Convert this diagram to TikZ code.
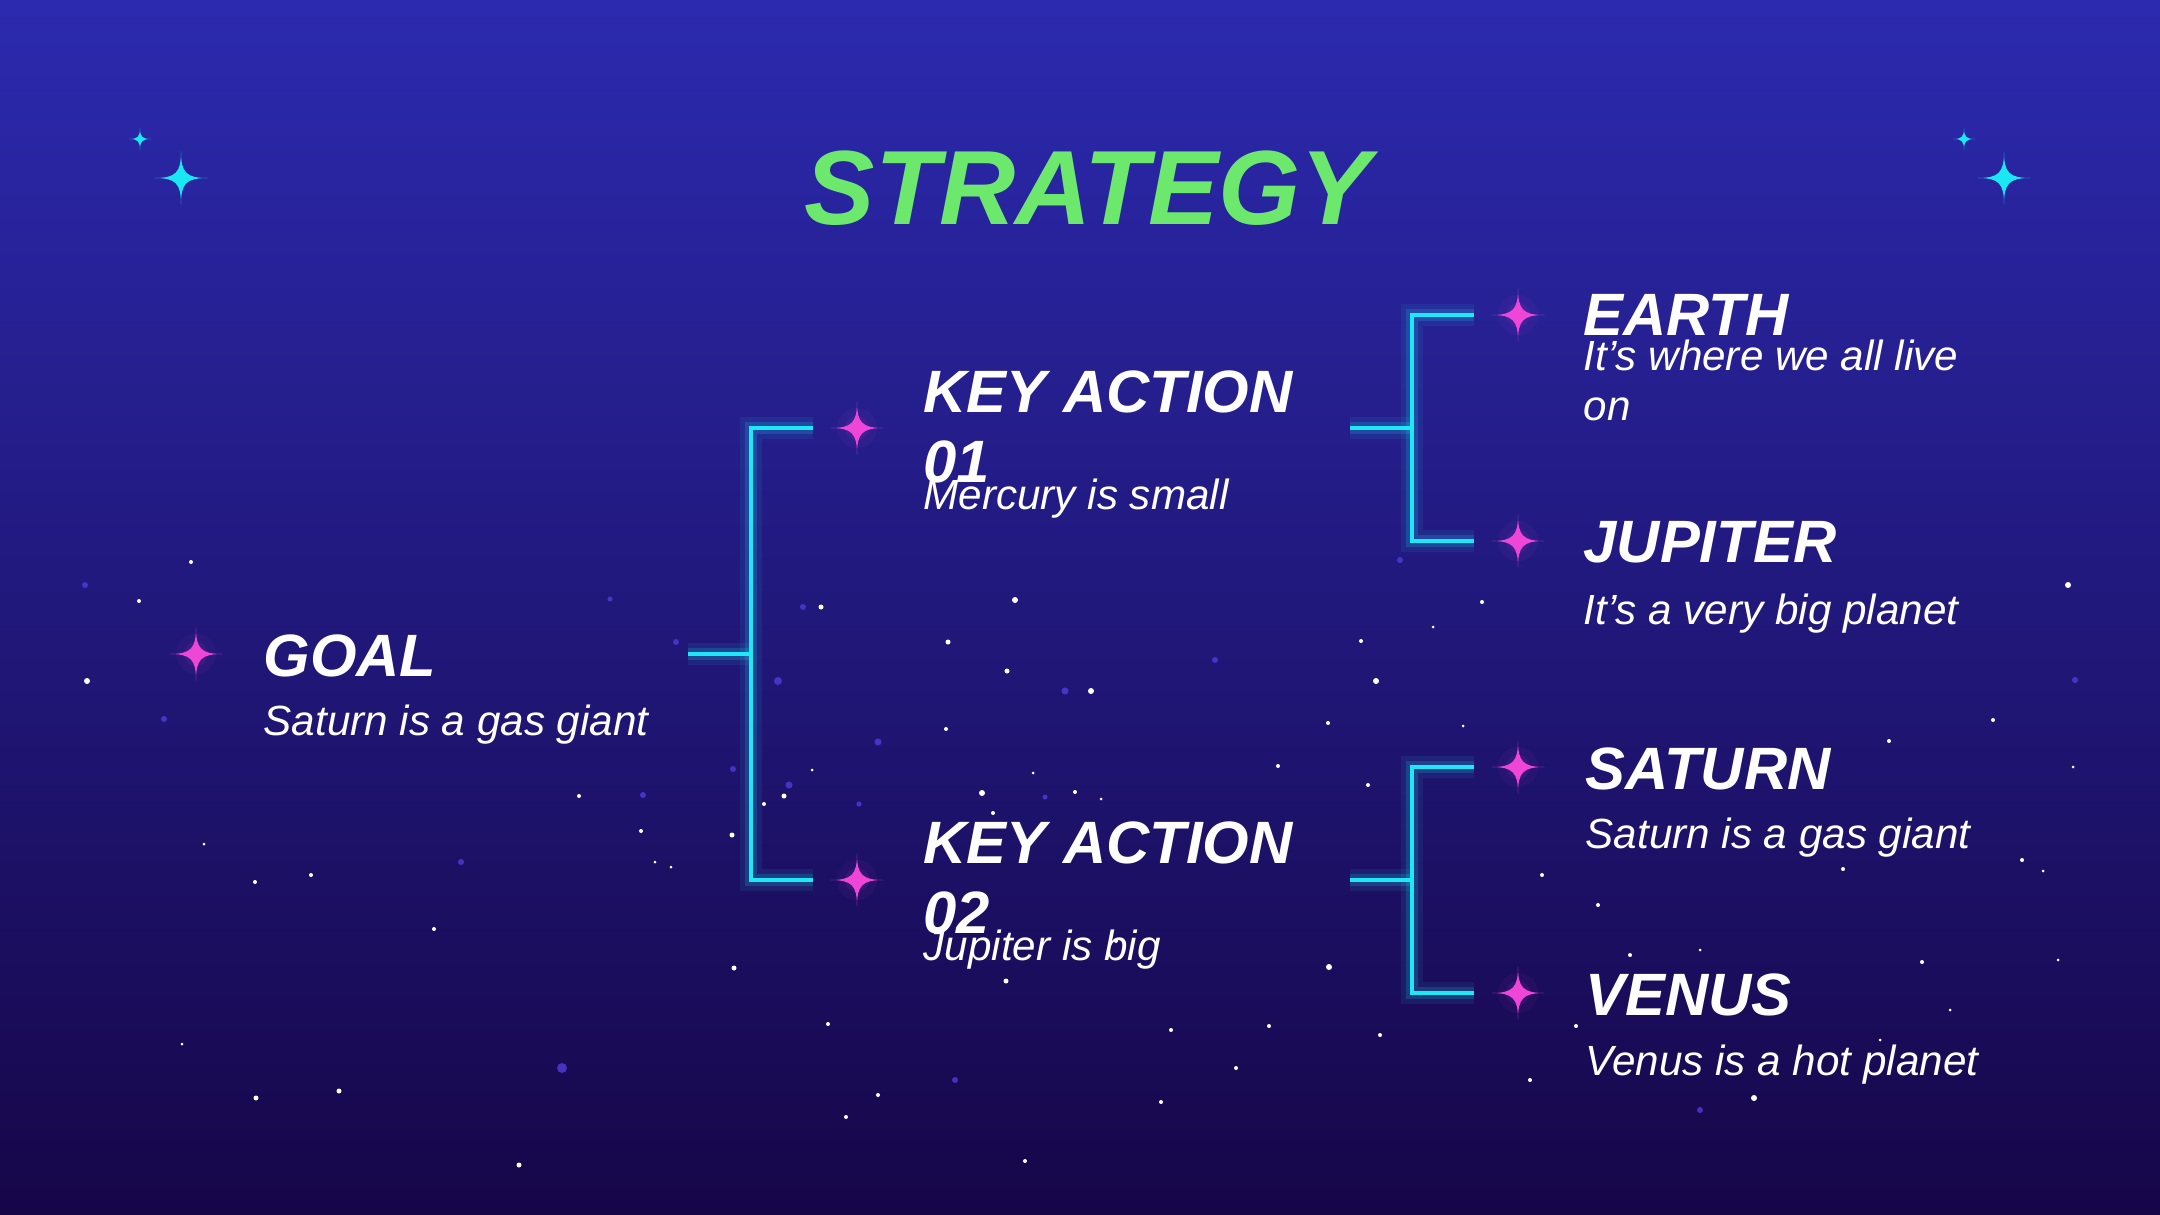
\documentclass[tikz,border=0pt]{standalone}
\usepackage{fontspec}
\setmainfont{Liberation Sans}
\usetikzlibrary{calc}
\definecolor{bgtop}{RGB}{44,42,175}
\definecolor{bgmid}{RGB}{33,20,125}
\definecolor{bgbot}{RGB}{22,6,72}
\definecolor{neon}{RGB}{30,232,245}
\definecolor{titlegreen}{RGB}{108,232,108}
\definecolor{pinkstar}{RGB}{240,70,215}
\definecolor{cyanstar}{RGB}{25,232,242}
\definecolor{dimdot}{RGB}{80,60,220}
\newcommand{\mystar}[3]{%
  \fill[#3,shift={(#1)},scale=#2] (1,0) .. controls (0.2,0) and (0,0.2) .. (0,1)
    .. controls (0,0.2) and (-0.2,0) .. (-1,0)
    .. controls (-0.2,0) and (0,-0.2) .. (0,-1)
    .. controls (0,-0.2) and (0.2,0) .. cycle;}
\newcommand{\pinkglow}[1]{%
  \fill[pinkstar,opacity=0.05] (#1) circle (20);
  \fill[pinkstar,opacity=0.08] (#1) circle (12);}
\begin{document}
\begin{tikzpicture}[x=0.01cm,y=-0.01cm,
  heading/.style={anchor=base west, inner sep=0pt, text=white, align=left,
    font=\fontsize{17}{19.9}\selectfont\bfseries\itshape},
  desc/.style={anchor=base west, inner sep=0pt, text=white, align=left,
    font=\fontsize{12}{14.2}\selectfont\itshape},
  neon/.style={draw=neon, line width=1.2pt,
    preaction={draw=neon, line width=6pt, draw opacity=0.08},
    preaction={draw=neon, line width=3.2pt, draw opacity=0.16}}]
\shade[top color=bgtop, middle color=bgmid, bottom color=bgbot] (0,0) rectangle (2160,1215);
\useasboundingbox (0,0) rectangle (2160,1215);

% background dots
\foreach \x/\y/\r in {85/585/3,164/719/3,643/795/3,562/1068/5,461/862/3,610/599/2.5,778/681/4,878/742/3.5,789/785/3.5,1065/691/3.5,733/769/3,676/642/3,803/607/3,859/804/2.5,1045/797/2.5,1215/660/3,1400/560/3,2075/680/3,1700/1110/3,955/1080/3}
  \fill[dimdot,opacity=0.8] (\x,\y) circle (\r);
\foreach \x/\y/\r in {191/562/2,139/601/2,87/681/3,311/875/2,255/882/2,204/844/1.5,434/929/2,256/1098/2.5,339/1091/2.5,182/1044/1.5,519/1165/2.5,579/796/2,641/831/2,821/607/2.5,1015/600/3,948/642/2.5,1007/671/2.5,1091/691/3,946/729/2,982/793/3,784/796/2.5,764/804/2,732/835/2.5,1033/773/1.5,1101/799/1.5,812/770/1.5,671/867/1.5,993/813/2,1006/981/2.5,1171/1030/2,1161/1102/2,1236/1068/2,1329/967/3,1278/766/2,1368/785/2,1328/723/2,1361/641/2,1376/681/3,1433/627/1.5,2068/585/3,1993/720/2,1889/741/2,2073/767/1.5,2022/860/2,2043/871/1.5,1843/869/2,1598/905/2,1542/875/2,1922/962/2,2058/960/1.5,1576/1026/2,1754/1098/3,1025/1161/2,846/1117/2,828/1024/2,734/968/2.5,878/1095/2,1075/792/2,1116/941/2,1269/1026/2,1463/726/1.5,1482/602/2,1700/950/1.5,1880/1040/1.5,1950/1010/1.5,1530/1080/2,1630/955/2,1380/1035/2,655/862/1.5}
  \fill[white] (\x,\y) circle (\r);

% star positions
\coordinate (g)     at (196,654);
\coordinate (ka1)   at (857,428);
\coordinate (ka2)   at (857,880);
\coordinate (earth) at (1518,315);
\coordinate (jup)   at (1518,541);
\coordinate (sat)   at (1518,767);
\coordinate (ven)   at (1518,993);
\coordinate (c1)    at (140,139);
\coordinate (c2)    at (181,178);
\coordinate (c3)    at (1964,139);
\coordinate (c4)    at (2004,178);

% connector ends
\coordinate (goalout) at (688,654);
\coordinate (b1)      at (751,654);
\coordinate (ka1out)  at (1350,428);
\coordinate (ka2out)  at (1350,880);

% brackets
\draw[neon] (goalout) -- (b1);
\draw[neon] ($(ka1)+(-44,0)$) -- ++(-62,0) |- ($(ka2)+(-44,0)$);
\draw[neon] (ka1out) -- ++(62,0);
\draw[neon] ($(earth)+(-44,0)$) -- ++(-62,0) |- ($(jup)+(-44,0)$);
\draw[neon] (ka2out) -- ++(62,0);
\draw[neon] ($(sat)+(-44,0)$) -- ++(-62,0) |- ($(ven)+(-44,0)$);

% pink stars
\foreach \s in {g,ka1,ka2,earth,jup,sat,ven}{\pinkglow{\s}}
\foreach \s in {g,ka1,ka2,earth,jup,sat,ven}{\mystar{\s}{26.5}{pinkstar}}
% cyan stars
\mystar{c1}{11}{cyanstar}
\mystar{c2}{26.5}{cyanstar}
\mystar{c3}{11}{cyanstar}
\mystar{c4}{26.5}{cyanstar}

% title
\node[anchor=base, inner sep=0pt, text=titlegreen,
  font=\fontsize{30}{36}\selectfont\bfseries\itshape] (title) at (1088,224) {STRATEGY};

% texts (multi-line nodes are anchored at the baseline of their last line)
\node[heading] (goalh) at (263,676) {GOAL};
\node[desc] (goald) at (263,735) {Saturn is a gas giant};
\node[heading] (ka1h) at (923,482) {KEY ACTION\\01};
\node[desc] (ka1d) at (923,509) {Mercury is small};
\node[heading] (ka2h) at (923,933) {KEY ACTION\\02};
\node[desc] (ka2d) at (923,960) {Jupiter is big};
\node[heading] (earthh) at (1583,335) {EARTH};
\node[desc] (earthd) at (1583,420) {It’s where we all live\\on};
\node[heading] (juph) at (1583,562) {JUPITER};
\node[desc] (jupd) at (1583,624) {It’s a very big planet};
\node[heading] (sath) at (1585,789) {SATURN};
\node[desc] (satd) at (1585,848) {Saturn is a gas giant};
\node[heading] (venh) at (1585,1015) {VENUS};
\node[desc] (vend) at (1585,1075) {Venus is a hot planet};
\end{tikzpicture}
\end{document}
